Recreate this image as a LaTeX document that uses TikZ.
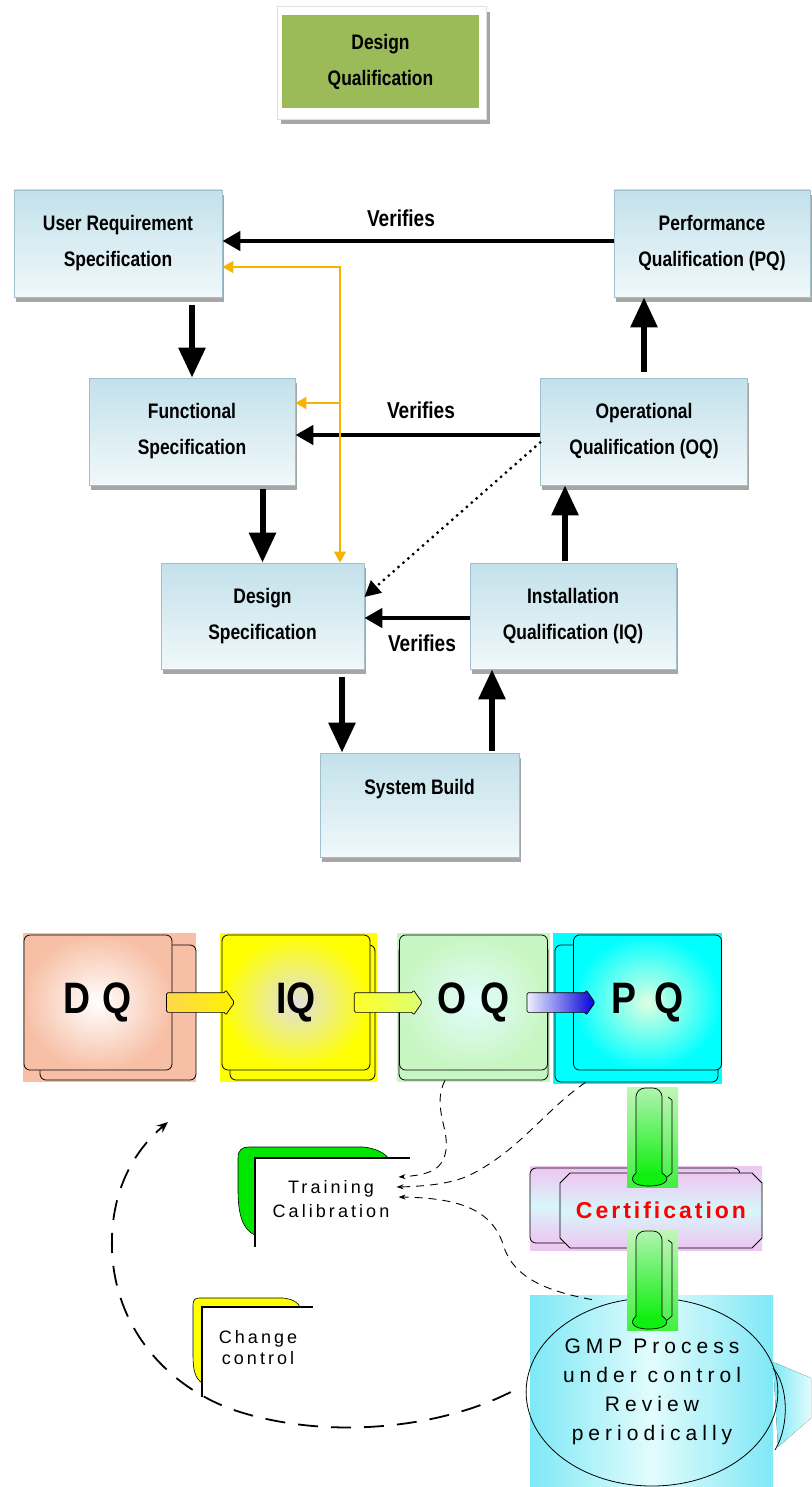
\documentclass[tikz,border=0pt]{standalone}
\usepackage{fontspec}
\setmainfont{Liberation Sans}
\newfontfamily\nf{Liberation Sans}[FakeStretch=0.83]
\newfontfamily\bigf{Liberation Sans}[FakeStretch=0.85]
\newfontfamily\spc{Liberation Sans}[LetterSpace=17]
\newfontfamily\spcw{Liberation Sans}[LetterSpace=24]
\newfontfamily\spcc{Liberation Sans}[LetterSpace=13]
\usetikzlibrary{arrows.meta,shadows,shapes.arrows,shapes.geometric,shapes.misc,calc}
\definecolor{boxtop}{HTML}{C3E1EB}
\definecolor{boxbot}{HTML}{F0F8FA}
\definecolor{boxline}{HTML}{9FC0CC}
\definecolor{dqgreen}{HTML}{9BBB59}
\definecolor{orangeL}{HTML}{F5B400}
\definecolor{salmon}{HTML}{F7C0A6}
\definecolor{qyellow}{HTML}{FFFF00}
\definecolor{qgreen}{HTML}{C8F6C2}
\definecolor{qcyan}{HTML}{00FFFF}
\definecolor{gmpcyan}{HTML}{7FE8F6}
\definecolor{gmplight}{HTML}{E2FCFC}
\definecolor{certpink}{HTML}{EEC6F2}
\definecolor{certmid}{HTML}{D8F6FA}
\definecolor{gbgtop}{HTML}{C0F6B8}
\definecolor{gbgbot}{HTML}{40F040}
\definecolor{gtubetop}{HTML}{B0F4B0}
\definecolor{gtubebot}{HTML}{10F010}
\definecolor{tgreen}{HTML}{00E600}
\definecolor{cyellow}{HTML}{FFFF00}
\begin{document}
\begin{tikzpicture}[x=1pt,y=-1pt,
  vbox/.style={draw=boxline, line width=0.8pt, top color=boxtop, bottom color=boxbot,
    drop shadow={shadow xshift=1.5pt, shadow yshift=-5pt, fill=black, opacity=0.35},
    font=\nf\bfseries\fontsize{21}{36}\selectfont, align=center, inner sep=0pt},
  varrow/.style={line width=6pt, -{Triangle[length=30pt,width=26pt]}},
  harrow/.style={line width=4.5pt, -{Triangle[length=18pt,width=19pt]}},
  oline/.style={draw=orangeL, line width=1.6pt},
  otip/.style={-{Triangle[length=11pt,width=12pt]}},
  dotarrow/.style={line width=3.2pt, line cap=round, dash pattern=on 0pt off 6.5pt,
    -{Triangle[length=16pt,width=16pt]}},
  verlab/.style={font=\nf\bfseries\fontsize{23}{23}\selectfont, inner sep=0pt},
  qback/.style={draw=black, line width=0.8pt, rounded corners=6pt},
  qblock/.style={draw=black, line width=0.8pt, rounded corners=6pt, minimum width=148pt,
    minimum height=135pt, inner sep=0pt, font=\bigf\bfseries\fontsize{44}{44}\selectfont},
  barrow/.style={single arrow, draw=black, line width=0.7pt, minimum height=68pt,
    single arrow head extend=3pt, single arrow tip angle=110, inner sep=0pt,
    rounded corners=1.5pt},
  bigdash/.style={line width=1.8pt, dash pattern=on 20pt off 13pt},
  smalldash/.style={line width=0.9pt, dash pattern=on 8pt off 6pt},
  gtube/.pic={
    \fill[top color=gbgtop, bottom color=gbgbot] (0,0) rectangle (51,100);
    \draw[line width=0.7pt] (41,10) -- (45,13) -- (45,86) -- (40,90);
    \draw[line width=0.7pt, top color=gtubetop, bottom color=gtubebot, rounded corners=9pt]
      (9,88) -- (9,1) -- (35,1) -- (35,88);
    \draw[line width=0.7pt, fill=gtubebot] (9,86) .. controls (2,92) and (5,99) .. (22,99)
      .. controls (39,99) and (45,92) .. (35,86);
  }]
\useasboundingbox (0,0) rectangle (811,1487);
\fill[white] (0,0) rectangle (811,1487);

% ---------- top: Design Qualification ----------
\fill[black!35] (281,12) rectangle (490,124);
\fill[white] (277,6) rectangle (486,119);
\draw[black!12] (277,6) rectangle (486,119);
\node[fill=dqgreen, minimum width=197pt, minimum height=93pt, inner sep=0pt, align=center,
  font=\nf\bfseries\fontsize{21}{36}\selectfont] (dqt) at (380.5,61.5) {Design\\Qualification};

% ---------- V model ----------
\node[vbox, minimum width=208pt, minimum height=107pt] (urs) at (118,243.5) {User Requirement\\Specification};
\node[vbox, minimum width=196pt, minimum height=107pt] (pq) at (712,243.5) {Performance\\Qualification (PQ)};
\node[vbox, minimum width=206pt, minimum height=107pt] (fs) at (192,431.5) {Functional\\Specification};
\node[vbox, minimum width=207pt, minimum height=107pt] (oq) at (644,431.5) {Operational\\Qualification (OQ)};
\node[vbox, minimum width=203pt, minimum height=106pt] (ds) at (262.5,616) {Design\\Specification};
\node[vbox, minimum width=206pt, minimum height=106pt] (iq) at (573,616) {Installation\\Qualification (IQ)};
\node[vbox, minimum width=199pt, minimum height=104pt] (sb) at (419.5,805) {System Build\\\mbox{}};

% verifies arrows
\draw[harrow] ([yshift=2.5pt]pq.west) -- ([yshift=2.5pt]urs.east);
\draw[harrow] ([yshift=-3.5pt]oq.west) -- ([yshift=-3.5pt]fs.east);
\draw[harrow] ([yshift=-2pt]iq.west) -- ([yshift=-2pt]ds.east);
\node[verlab] (v1) at (401,218) {Verifies};
\node[verlab] (v2) at (421,410) {Verifies};
\node[verlab] (v3) at (422,643) {Verifies};

% flow arrows
\draw[varrow, shorten <=8pt] (urs.south -| fs.north) -- (fs.north);
\draw[varrow, shorten <=4pt] (fs.south -| ds.north) -- (ds.north);
\draw[varrow, shorten <=8pt] ([xshift=-77.5pt]sb.north |- ds.south) -- ([xshift=-77.5pt]sb.north);
\draw[varrow, shorten <=2pt] ([xshift=72.5pt]sb.north) -- ([xshift=72.5pt]sb.north |- iq.south);
\draw[varrow, shorten <=2pt] ([xshift=-8pt]iq.north) -- ([xshift=-8pt]iq.north |- oq.south);
\draw[varrow, shorten <=6pt] (oq.north) -- (oq.north |- pq.south);

% orange feedback lines
\coordinate (oj) at (340,403);
\draw[oline, {Triangle[length=11pt,width=12pt]}-{Triangle[length=11pt,width=12pt]}]
  ([yshift=-23.5pt]urs.east) -| ([xshift=77.5pt]ds.north);
\draw[oline, otip] (oj) -- (oj -| fs.east);

% dotted arrow
\draw[dotarrow] ([yshift=-11pt]oq.west) -- ([yshift=19pt]ds.east);

% ---------- lower: qualification chain ----------
% DQ
\fill[salmon] (23,933) rectangle (196,1082);
\draw[qback, fill=salmon] (40,945) rectangle (196,1080);
\node[qblock, inner color=white, outer color=salmon] (dq) at (98,1002.5) {D\kern12pt Q};
% IQ
\fill[qyellow] (220,933) rectangle (377,1082);
\draw[qback, fill=qyellow] (230,945) rectangle (375,1080);
\node[qblock, inner color=black!12, outer color=qyellow] (iq2) at (296,1002.5) {IQ};
% OQ
\fill[qgreen] (397,933) rectangle (550,1082);
\draw[qback, fill=qgreen] (399,945) rectangle (548,1080);
\node[qblock, inner color=gmplight, outer color=qgreen] (oq2) at (473.5,1002.5) {O\kern14pt Q};
% PQ
\fill[qcyan] (553,933) rectangle (722,1084);
\draw[qback, fill=qcyan] (555,945) rectangle (718,1082);
\node[qblock, inner color=green!12!white, outer color=qcyan] (pq2) at (647.5,1002.5) {P\kern18pt Q};

% block arrows
\node[barrow, left color=orange!45!yellow!70!white, right color=yellow!90!orange] (a1)
  at ($(dq.east)!0.5!(iq2.west)$) {\rule{0pt}{19pt}};
\node[barrow, left color=yellow!85!white, right color=green!25!yellow!55!white] (a2)
  at ($(iq2.east)!0.5!(oq2.west)$) {\rule{0pt}{19pt}};
\node[barrow, left color=blue!6!white, right color=blue!85!black] (a3)
  at ($(oq2.east)!0.5!(pq2.west)+(-3,0)$) {\rule{0pt}{19pt}};

% GMP
\fill[left color=gmpcyan, right color=gmpcyan, middle color=gmplight] (530,1295) rectangle (773,1487);
\fill[left color=gmpcyan, right color=gmplight] (773,1362) -- (811,1378) -- (811,1418) -- (778,1447) -- cycle;
\draw[line width=0.8pt] (773,1368) .. controls (788,1385) and (790,1425) .. (775,1450);
\node[ellipse, draw, line width=0.8pt, minimum width=240pt, minimum height=188pt, inner sep=0pt,
  align=center, font=\spcw\fontsize{21}{29}\selectfont] (gmp) at (652,1392)
  {GMP Process\\under control\\Review\\periodically};

% Certification
\fill[top color=certpink, bottom color=certpink, middle color=certmid] (530,1166) rectangle (762,1250);
\draw[qback, top color=certpink, bottom color=certpink, middle color=certmid] (530,1168) rectangle (740,1243);
\node[chamfered rectangle, chamfered rectangle xsep=5pt, chamfered rectangle ysep=5pt,
  draw, line width=0.8pt, top color=certpink, bottom color=certpink, middle color=certmid,
  minimum width=202pt, minimum height=75pt, inner sep=0pt,
  font=\spcc\bfseries\fontsize{23}{23}\selectfont, text=red] (cert) at (661,1210.5) {Certification};

% green tubes
\pic at (627,1087) {gtube};
\pic at (627,1230) {gtube};

% Training / change control
\draw[fill=tgreen, line width=0.6pt] (255,1158) -- (255,1235) .. controls (243,1230) and (238,1215) .. (238,1190)
  -- (238,1158) .. controls (238,1150) and (242,1147) .. (249,1147) -- (363,1147)
  .. controls (375,1148) and (385,1153) .. (388,1158) -- cycle;
\draw[line width=1.3pt] (255,1247) -- (255,1158) -- (410,1158);
\node[font=\spc\fontsize{18}{24}\selectfont, align=center, inner sep=0pt] (tr) at (331,1199) {Training\\Calibration};

\draw[fill=cyellow, line width=0.6pt] (202,1307) -- (202,1383) .. controls (195,1378) and (193,1370) .. (193,1355)
  -- (193,1305) .. controls (193,1300) and (195,1298) .. (199,1298) -- (283,1298)
  .. controls (292,1299) and (298,1302) .. (300,1307) -- cycle;
\draw[line width=1.3pt] (202,1397) -- (202,1307) -- (313,1307);
\node[font=\spc\fontsize{18}{21}\selectfont, align=center, inner sep=0pt] (cc) at (258,1347.5) {Change\\control};

% dashed connectors
\coordinate (c1s) at ([xshift=-28.5pt,yshift=-10pt]oq2.south);
\coordinate (c2s) at ([xshift=-62pt,yshift=-12pt]pq2.south);
\coordinate (c3s) at ([xshift=-60pt,yshift=-2pt]gmp.north);
\coordinate (t1) at ([xshift=9pt,yshift=22pt]tr.east);
\coordinate (t2) at ([xshift=7pt,yshift=12pt]tr.east);
\coordinate (t3) at ([xshift=9pt,yshift=2pt]tr.east);
\draw[smalldash, -{Stealth[length=7pt,width=5pt]}] (c1s) .. controls (430,1110) and (455,1135) .. (443,1160)
  .. controls (438,1170) and (428,1175) .. (t1);
\draw[smalldash, -{Stealth[length=7pt,width=5pt]}] (c2s) .. controls (545,1110) and (520,1150) .. (470,1175)
  .. controls (455,1182) and (435,1186) .. (t2);
\draw[smalldash, -{Stealth[length=7pt,width=5pt]}] (c3s) .. controls (540,1290) and (515,1275) .. (505,1250)
  .. controls (495,1215) and (470,1198) .. (t3);

\coordinate (ls) at ([xshift=-15pt]gmp.west);
\coordinate (le) at (168,1122);
\draw[bigdash, -{Stealth[length=11pt,width=9pt]}] (ls) .. controls (440,1428) and (330,1440) .. (240,1412)
  .. controls (170,1390) and (115,1330) .. (112,1250)
  .. controls (110,1190) and (135,1150) .. (le);
\end{tikzpicture}
\end{document}
